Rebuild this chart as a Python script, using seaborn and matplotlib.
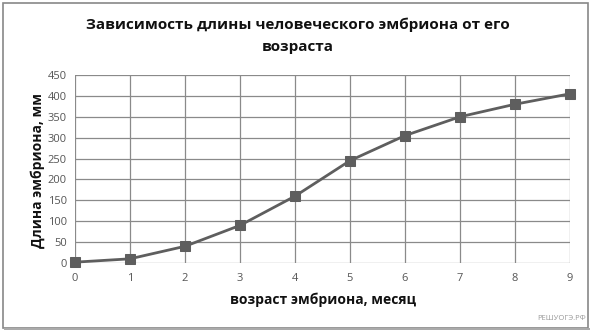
import matplotlib
matplotlib.use("Agg")
import matplotlib.pyplot as plt
import seaborn as sns
import pandas as pd
from matplotlib.patches import Rectangle

months = [0, 1, 2, 3, 4, 5, 6, 7, 8, 9]
length_mm = [2, 10, 40, 90, 160, 245, 305, 350, 380, 405]
y_ticks = [0, 50, 100, 150, 200, 250, 300, 350, 400, 450]

title = "Зависимость длины человеческого эмбриона от его\nвозраста"
xlabel = "возраст эмбриона, месяц"
ylabel = "Длина эмбриона, мм"

df = pd.DataFrame({"month": months, "length": length_mm})

sns.set_theme(style="white")
plt.rcParams["font.family"] = ["Open Sans", "DejaVu Sans"]

fig = plt.figure(figsize=(5.93, 3.33), dpi=100)
ax = fig.add_axes([75/593, 1-263/333, (570-75)/593, (263-75)/333])

sns.lineplot(data=df, x="month", y="length", ax=ax, color="#5e5e5e",
             linewidth=2.0, marker="s", markersize=7.5,
             markerfacecolor="#5e5e5e", markeredgecolor="#5e5e5e", zorder=3)
for ln in ax.lines:
    ln.set_clip_on(False)

ax.set_xlim(0, 9)
ax.set_ylim(0, 450)
ax.set_xticks(months)
ax.set_yticks(y_ticks)
ax.grid(True, color="#8a8a8a", linewidth=0.9)
ax.set_axisbelow(True)
for s in ax.spines.values():
    s.set_visible(False)
ax.tick_params(axis="both", length=0, labelsize=8, labelcolor="#555555")
ax.tick_params(axis="x", pad=7)
ax.tick_params(axis="y", pad=6)
ax.set_xlabel("")
ax.set_ylabel("")

fig.text(298/593, 1-36/333, title, ha="center", va="center",
         fontsize=11, fontweight="bold", color="#111111", linespacing=1.75)
fig.text(323/593, 1-300/333, xlabel, ha="center", va="center",
         fontsize=10, fontweight="bold", color="#111111")
fig.text(38/593, 1-170/333, ylabel, ha="center", va="center",
         fontsize=10, fontweight="bold", color="#111111", rotation=90)
fig.text(586/593, 1-318/333, "РЕШУОГЭ.РФ", ha="right", va="center",
         fontsize=5.5, color="#999999")

fig.patches.append(Rectangle((3/593, 1-328/333), 585/593, 325/333,
                             transform=fig.transFigure, fill=False,
                             edgecolor="#888888", linewidth=1.2))
fig.patches.append(Rectangle((4/593, 1-330/333), 586/593, 2/333,
                             transform=fig.transFigure, fill=True,
                             facecolor="#aaaaaa", edgecolor="none"))

fig.savefig("out.png", dpi=100)
